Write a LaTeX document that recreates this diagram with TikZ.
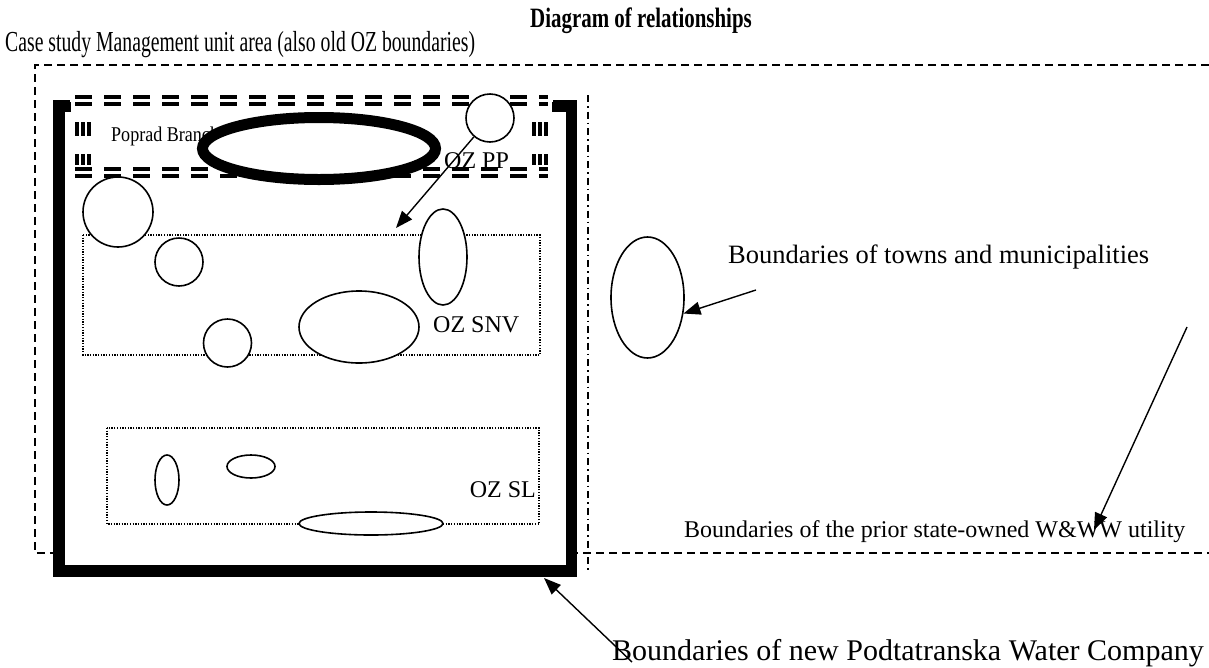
\documentclass[tikz,border=0pt]{standalone}
\usepackage{graphicx}
\usepackage{fontspec}
\setmainfont{Liberation Serif}
\usetikzlibrary{arrows.meta,shapes.geometric}

\begin{document}
\begin{tikzpicture}[x=1pt,y=-1pt,
  shapeline/.style={draw,line width=1.6pt,fill=white,inner sep=0pt},
  loop/.style={shapeline,circle},
  oval/.style={shapeline,ellipse},
  arr/.style={line width=1.4pt,-{Triangle[length=17pt,width=13pt]}},
  outerdash/.style={line width=1.5pt,dash pattern=on 8pt off 5pt},
  dashdot/.style={line width=1.3pt,dash pattern=on 7pt off 4pt on 1.5pt off 4pt},
  dotbox/.style={line width=1.3pt,dash pattern=on 1.3pt off 1.4pt},
  lbl/.style={inner sep=0pt,anchor=base west},
  big/.style={font=\fontsize{30}{34}\selectfont},
  mid/.style={font=\fontsize{26.5}{30}\selectfont},
  small/.style={font=\fontsize{24}{28}\selectfont},
]
\useasboundingbox (0,0) rectangle (1209,667);

% title and heading (narrow setting)
\node[font=\bfseries\fontsize{28}{32}\selectfont,anchor=base,inner sep=0pt] (title) at (641,27)
  {\scalebox{0.747}[1]{Diagram of relationships}};
\node[lbl,font=\fontsize{29}{33}\selectfont] (case) at (5,51)
  {\scalebox{0.68}[1]{Case study Management unit area (also old OZ boundaries)}};

% old state utility boundary (open to the right)
\draw[outerdash] (1209,65) -- (35,65) -- (35,553) -- (1209,553);
% management unit boundary
\draw[dashdot] (588,95) -- (588,570);

% new water company boundary
\node[draw,line width=11.5pt,fill=white,inner sep=0pt,
      minimum width=512.5pt,minimum height=465.25pt] (company) at (315,338.6) {};

% Poprad branch frame: white backing, striped dashes
\draw[white,line width=24pt] (83,100) rectangle (540,172);
\draw[line width=11pt,dash pattern=on 17pt off 12pt] (75,100) -- (548,100);
\draw[line width=11pt,dash pattern=on 17pt off 12pt] (75,172) -- (548,172);
\draw[line width=16pt,dash pattern=on 14pt off 18pt] (83,122) -- (83,165);
\draw[line width=16pt,dash pattern=on 14pt off 18pt] (540,122) -- (540,165);
\draw[white,line width=3pt] (70,100) -- (553,100);
\draw[white,line width=3pt] (70,172) -- (553,172);
\draw[white,line width=2.2pt] (80.1,110) -- (80.1,165) (85.9,110) -- (85.9,165);
\draw[white,line width=2.2pt] (537.1,110) -- (537.1,165) (542.9,110) -- (542.9,165);

% operating zones
\draw[dotbox] (83,235) rectangle (540,355);
\draw[dotbox] (107,428) rectangle (539,524);

% labels inside the company area
\node[lbl,font=\fontsize{21}{24}\selectfont] (poprad) at (111,141)
  {\scalebox{0.86}[1]{Poprad Branch}};
\node[lbl,small] (ozpp) at (444,168) {OZ PP};
\node[lbl,small] (ozsnv) at (433,332) {OZ SNV};
\node[small,inner sep=0pt,anchor=base east] (ozsl) at (536,497) {OZ SL};

% towns and municipalities
\node[ellipse,draw,line width=11pt,fill=white,inner sep=0pt,
      minimum width=233pt,minimum height=62pt] (popradtown) at (319,148.5) {};
\node[loop,minimum size=48pt] (ppcircle) at (490,118) {};
\node[loop,minimum size=70pt] (t1) at (118,212) {};
\node[loop,minimum size=48pt] (t2) at (179,262) {};
\node[loop,minimum size=48pt] (t3) at (227.5,343) {};
\node[oval,minimum width=48pt,minimum height=96pt] (t4) at (443,257) {};
\node[oval,minimum width=120pt,minimum height=72pt] (t5) at (359,327) {};
\node[oval,minimum width=24pt,minimum height=50pt] (t6) at (167,480) {};
\node[oval,minimum width=48pt,minimum height=23pt] (t7) at (251,466.5) {};
\node[oval,minimum width=144pt,minimum height=23pt] (t8) at (371,523.5) {};
\node[oval,minimum width=73pt,minimum height=121pt] (town) at (647.5,297.5) {};

% legend texts
\node[lbl,mid] (townlbl) at (728,263) {Boundaries of towns and municipalities};
\node[lbl,small] (utillbl) at (684,537) {Boundaries of the prior state-owned W\&WW utility};
\node[lbl,big] (complbl) at (612,660) {Boundaries of new Podtatranska Water Company};

% pointers
\coordinate (ppTip) at (396,228);
\draw[arr] (ppcircle) -- (ppTip);
\coordinate (townTail) at (756,290);
\draw[arr] (townTail) -- (town.-24);
\coordinate (utilTail) at (1187,327);
\coordinate (utilTip) at (1094,530);
\draw[arr] (utilTail) -- (utilTip);
\coordinate (compTail) at (632,662);
\coordinate (compTip) at (544,578);
\draw[arr] (compTail) -- (compTip);
\end{tikzpicture}
\end{document}
